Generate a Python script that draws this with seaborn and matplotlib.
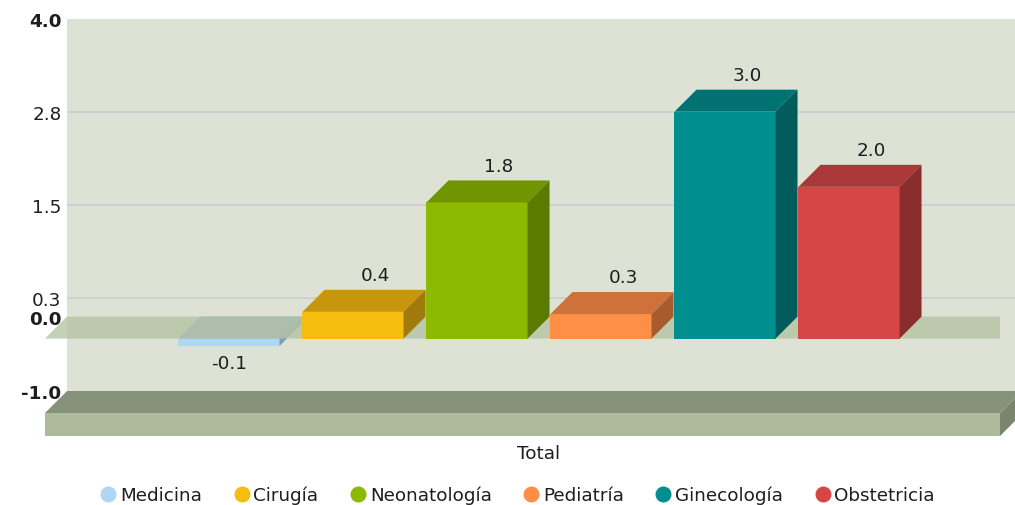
import matplotlib
matplotlib.use("Agg")
import matplotlib.pyplot as plt
from matplotlib.patches import Polygon, Rectangle
from matplotlib.lines import Line2D
import seaborn as sns
import pandas as pd

# ---------------- data ----------------
categories = ["Medicina", "Cirugía", "Neonatología", "Pediatría", "Ginecología", "Obstetricia"]
values = [-0.1, 0.36, 1.83, 0.33, 3.05, 2.04]
value_labels = ["-0.1", "0.4", "1.8", "0.3", "3.0", "2.0"]
group_label = "Total"
ytick_values = [-1.0, 0.25, 1.5, 2.75, 4.0]
ytick_labels = ["-1.0", "0.3", "1.5", "2.8", "4.0"]
y_min, y_max = -1.0, 4.0

front_colors = ["#AED6F5", "#F6BD0F", "#8BBA00", "#FF8E46", "#008E8E", "#D64646"]
top_colors = ["#8FB2CC", "#C7960C", "#6F9500", "#CF7239", "#007272", "#AB3838"]
side_colors = ["#7F9DB6", "#A07A0A", "#5A7A00", "#A85C2E", "#005B5B", "#8A2D2D"]

WALL = "#DDE2D5"
GRID = "#CDCED3"
ZERO_PLANE = "#B5C3A4"
FLOOR_TOP = "#87927A"
FLOOR_FRONT = "#ADBB9C"
FLOOR_SIDE = "#7A8570"
TEXT = "#1E1E1E"

df = pd.DataFrame({"group": [group_label] * len(categories),
                   "category": categories, "value": values})

sns.set_theme(style="white")
plt.rcParams["font.family"] = ["DejaVu Sans"]
FS = 13.2

W, H = 1015, 506
fig = plt.figure(figsize=(W / 100, H / 100), dpi=100)
fig.patch.set_facecolor("white")

DEPTH = 22  # px
ax_w, ax_h = 955, 372
front_left, front_bottom = 45, 414   # pixel (left, bottom) of front plane

# back wall axes (shifted by depth)
axb = fig.add_axes([(front_left + DEPTH) / W, (H - front_bottom + DEPTH) / H, ax_w / W, ax_h / H])
axb.set_facecolor(WALL)
axb.set_ylim(y_min, y_max)
axb.set_xlim(0, 1)
axb.set_xticks([])
for s in axb.spines.values():
    s.set_visible(False)
for v in ytick_values[1:-1]:
    axb.axhline(v, color=GRID, lw=1.3, zorder=1)
ticks = ytick_values + [0.0]
labels = ytick_labels + ["0.0"]
axb.set_yticks(ticks)
axb.set_yticklabels(labels)
axb.tick_params(axis="y", length=0, pad=4, labelsize=FS, labelcolor=TEXT)
for t, lab in zip(axb.get_yticklabels(), labels):
    if lab in ("4.0", "0.0", "-1.0"):
        t.set_fontweight("bold")

# front axes
ax = fig.add_axes([front_left / W, (H - front_bottom) / H, ax_w / W, ax_h / H])
ax.set_facecolor("none")
ax.patch.set_alpha(0)
sns.barplot(data=df, x="group", y="value", hue="category", hue_order=categories,
            palette=front_colors, saturation=1, width=0.8, gap=0.185,
            legend=False, ax=ax, linewidth=0, zorder=3)
bars = sorted([p for p in ax.patches if isinstance(p, Rectangle)], key=lambda p: p.get_x())

# x scale: group slot 0.8 data units spans 744 px
px_per_unit = 744 / 0.8
center_px = 539 - front_left
xl = -center_px / px_per_unit
xr = (ax_w - center_px) / px_per_unit
ax.set_xlim(xl, xr)
ax.set_ylim(y_min, y_max)
for s in ax.spines.values():
    s.set_visible(False)
ax.set_yticks([])
ax.set_xlabel("")
ax.set_ylabel("")
ax.tick_params(axis="x", length=0, pad=22, labelsize=FS, labelcolor=TEXT)

dx = DEPTH / px_per_unit
dy = DEPTH * (y_max - y_min) / ax_h

# zero plane
ax.add_patch(Polygon([(xl, 0), (xr, 0), (xr + dx, dy), (xl + dx, dy)], closed=True,
                     facecolor=ZERO_PLANE, edgecolor="none", alpha=0.8, zorder=2))

# floor slab at y_min
t = 23 * (y_max - y_min) / ax_h
ax.add_patch(Polygon([(xl, y_min), (xr, y_min), (xr + dx, y_min + dy), (xl + dx, y_min + dy)],
                     closed=True, facecolor=FLOOR_TOP, edgecolor="none", zorder=2, clip_on=False))
ax.add_patch(Polygon([(xl, y_min), (xr, y_min), (xr, y_min - t), (xl, y_min - t)],
                     closed=True, facecolor=FLOOR_FRONT, edgecolor="none", zorder=2, clip_on=False))
ax.add_patch(Polygon([(xr, y_min), (xr + dx, y_min + dy), (xr + dx, y_min + dy - t), (xr, y_min - t)],
                     closed=True, facecolor=FLOOR_SIDE, edgecolor="none", zorder=2, clip_on=False))

# 3D faces of bars
for i, p in enumerate(bars):
    x0, w = p.get_x(), p.get_width()
    y0, h = p.get_y(), p.get_height()
    top, bot = max(y0, y0 + h), min(y0, y0 + h)
    neg = values[i] < 0
    zf = 1 if neg else 3
    p.set_zorder(zf)
    ax.add_patch(Polygon([(x0, top), (x0 + w, top), (x0 + w + dx, top + dy), (x0 + dx, top + dy)],
                         closed=True, facecolor=top_colors[i], edgecolor="none", zorder=zf))
    ax.add_patch(Polygon([(x0 + w, bot), (x0 + w + dx, bot + dy), (x0 + w + dx, top + dy), (x0 + w, top)],
                         closed=True, facecolor=side_colors[i], edgecolor="none", zorder=zf))
    if neg:
        ax.annotate(value_labels[i], (x0 + w / 2, bot), xytext=(0, -6), textcoords="offset points",
                    ha="center", va="top", fontsize=FS, color=TEXT, zorder=5)
    else:
        ax.annotate(value_labels[i], (x0 + w / 2 + dx, top + dy), xytext=(0, 4),
                    textcoords="offset points", ha="center", va="bottom", fontsize=FS,
                    color=TEXT, zorder=5)

# legend
handles = [Line2D([0], [0], marker="o", linestyle="none", markersize=10.5,
                  markerfacecolor=c, markeredgecolor=c) for c in front_colors]
fig.legend(handles, categories, loc="center", bbox_to_anchor=(518 / W, 10 / H), ncol=6,
           frameon=False, fontsize=FS, handlelength=0.8, handletextpad=0.25,
           columnspacing=1.75, labelcolor=TEXT)

fig.savefig("out.png", dpi=100, facecolor="white")
